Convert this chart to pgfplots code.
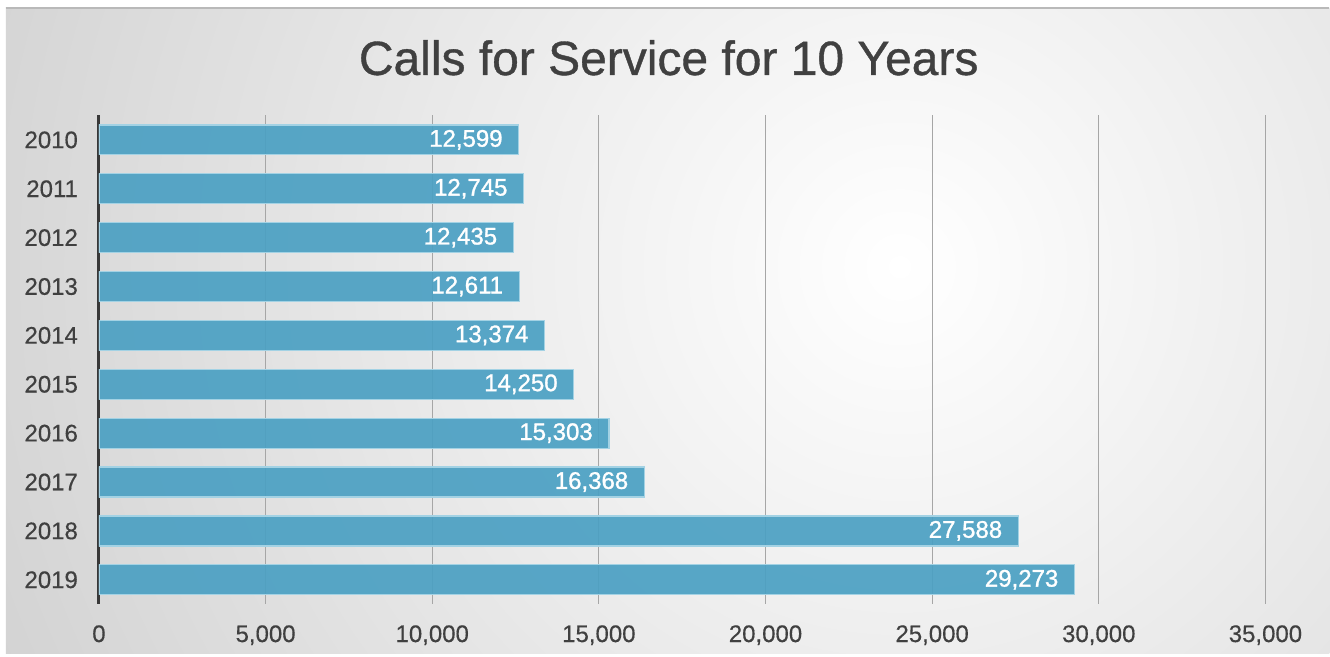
\documentclass[border=0pt]{standalone}
\usepackage{fontspec}
\setmainfont{Liberation Sans}
\newfontface\semib[RawFeature={embolden=1.2}]{Liberation Sans}
\newfontface\titlef[RawFeature={embolden=0.8}]{Liberation Sans}
\newfontface\tickf[RawFeature={embolden=0.4}]{Liberation Sans}
\usepackage{pgfplots}
\pgfplotsset{compat=1.18}
\definecolor{barblue}{HTML}{4BA0C3}
\definecolor{baredge}{HTML}{A3D2E4}
\definecolor{txtgray}{HTML}{404040}
\definecolor{bggray}{HTML}{C2C2C2}

\begin{document}
\begin{tikzpicture}[x=1pt,y=1pt]
% background panel
\fill[white] (0,0) rectangle (665,328.5);
\begin{scope}
  \clip (3,1.5) rectangle (665,324.5);
  \shade[inner color=white, outer color=bggray] (450,195) circle (680);
\end{scope}
\draw[gray!55, line width=0.6pt] (3,324.5) -- (665,324.5);

\node[anchor=base, font=\titlef\fontsize{24}{28}\selectfont, text=txtgray] at (334.5,291) {Calls for Service for 10 Years};

\begin{axis}[
  at={(49.5pt,26.25pt)}, anchor=south west,
  scale only axis, width=583.5pt, height=244.5pt,
  xbar, bar width=15pt,
  xmin=0, xmax=35000, ymin=-0.5, ymax=9.5,
  y dir=reverse,
  ytick={0,...,9},
  yticklabels={2010,2011,2012,2013,2014,2015,2016,2017,2018,2019},
  xtick={0,5000,...,35000},
  scaled x ticks=false,
  major tick length=0pt,
  axis lines*=left,
  x axis line style={draw=none},
  y axis line style={line width=1.5pt, color=black!78},
  xmajorgrids,
  grid style={color=black!35, line width=0.5pt},
  tick label style={font=\tickf\fontsize{12}{14}\selectfont, text=txtgray},
  xticklabel style={yshift=-7pt, /pgf/number format/1000 sep={,}},
  yticklabel style={xshift=-7pt},
  /pgf/number format/assume math mode=true,
  point meta=x,
  nodes near coords={\pgfmathprintnumber[fixed,precision=0,1000 sep={,}]{\pgfplotspointmeta}},
  every node near coord/.append style={anchor=east, xshift=-4.5pt, text=white, font=\semib\fontsize{12}{14}\selectfont},
]
\addplot[fill=barblue, fill opacity=0.92, draw=baredge, line width=0.6pt, text opacity=1] coordinates {
  (12599,0) (12745,1) (12435,2) (12611,3) (13374,4)
  (14250,5) (15303,6) (16368,7) (27588,8) (29273,9)
};
\end{axis}
\end{tikzpicture}
\end{document}
